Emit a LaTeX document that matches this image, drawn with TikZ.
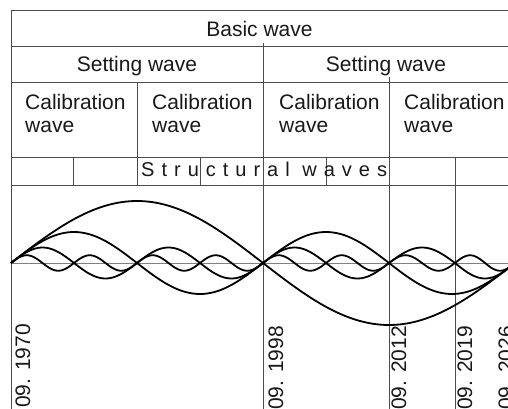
\documentclass[tikz,border=0pt]{standalone}
\usepackage{fontspec}
\setmainfont{Liberation Sans}
\begin{document}
\begin{tikzpicture}[x=1pt,y=-1pt,
  grid/.style={draw=black!70, line width=0.9pt},
  lowline/.style={draw=black!50, line width=0.9pt},
  wave/.style={draw=black, line width=1.8pt, line join=round},
  lbl/.style={font=\fontsize{21}{24}\selectfont, text=black!90, inner sep=0pt},
  datelbl/.style={lbl, rotate=90, anchor=base west},
]
\useasboundingbox (0,0) rectangle (508,409);
\begin{scope}
\clip (0,0) rectangle (508,409);
% table grid
\foreach \yy in {10,46,82,157,185} \draw[grid] (11,\yy) -- (512,\yy);
\draw[lowline] (11,263) -- (512,263);
\draw[grid] (11,10) -- (11,412);
\draw[grid] (263,43) -- (263,412);
\draw[grid] (389,77) -- (389,412);
\draw[grid] (455,157) -- (455,412);
\draw[grid] (137,82) -- (137,185);
\foreach \xx in {73,200,326} \draw[grid] (\xx,157) -- (\xx,185);
% basic wave
\draw[wave] plot[domain=11:515, samples=140, smooth] (\x,{263-62*sin((\x-11)/252*180)});
% setting wave
\draw[wave] plot[domain=11:515, samples=160, smooth] (\x,{263-31*sin((\x-11)/126*180)});
% calibration wave
\draw[wave] (11,263) \foreach \p/\q/\s in {11/74/1,74/137/-1,137/200/1,200/263/-1,263/326/1,326/389/-1,389/455/1,455/515/-1}
  { -- plot[domain=\p:\q, samples=24, smooth] (\x,{263-(\s)*15.5*sin((\x-\p)/(\q-\p)*180)}) };
% structural wave
\draw[wave] (11,263) \foreach \p/\q/\s in {11/42.5/1,42.5/74/-1,74/105.5/1,105.5/137/-1,137/168.5/1,168.5/200/-1,200/231.5/1,231.5/263/-1,263/294.5/1,294.5/326/-1,326/357.5/1,357.5/389/-1,389/422/1,422/455/-1,455/485/1,485/515/-1}
  { -- plot[domain=\p:\q, samples=16, smooth] (\x,{263-(\s)*7.75*sin((\x-\p)/(\q-\p)*180)}) };
\end{scope}
% texts
\node[lbl, anchor=base] (basic) at (259.5,37) {Basic wave};
\node[lbl, anchor=base] (set1) at (137,72) {Setting wave};
\node[lbl, anchor=base] (set2) at (386,72) {Setting wave};
\node[lbl, anchor=base west] (cal1) at (25,110) {Calibration};
\node[lbl, anchor=base west] (cal1w) at (25,132) {wave};
\node[lbl, anchor=base west] (cal2) at (152,110) {Calibration};
\node[lbl, anchor=base west] (cal2w) at (152,132) {wave};
\node[lbl, anchor=base west] (cal3) at (279,110) {Calibration};
\node[lbl, anchor=base west] (cal3w) at (279,132) {wave};
\node[lbl, anchor=base west] (cal4) at (404,110) {Calibration};
\node[lbl, anchor=base west] (cal4w) at (404,132) {wave};
\node[lbl, font=\fontsize{20}{23}\selectfont\addfontfeature{LetterSpace=35}, anchor=base west] (struct) at (141,176) {Structural waves};
\node[datelbl] (d1970) at (30,408) {09. 1970};
\node[datelbl] (d1998) at (283,410) {09. 1998};
\node[datelbl] (d2012) at (406,410) {09. 2012};
\node[datelbl] (d2019) at (472,410) {09. 2019};
\node[datelbl] (d2026) at (513,410) {09. 2026};
\end{tikzpicture}
\end{document}
